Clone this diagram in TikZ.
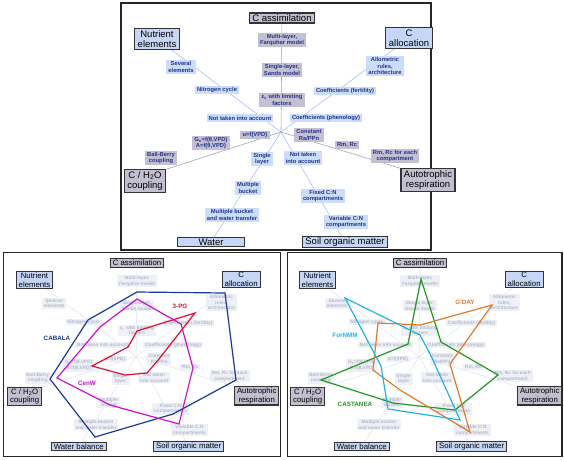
\documentclass[tikz,border=0pt]{standalone}
\usepackage{fontspec}
\setmainfont{Liberation Sans}
\usetikzlibrary{backgrounds}
\definecolor{boxblue}{HTML}{C6D6F6}
\definecolor{boxgrey}{HTML}{C3BFD1}
\definecolor{labblue}{HTML}{CCDDFC}
\definecolor{labgrey}{HTML}{C4C0D2}
\definecolor{labtext}{HTML}{22348A}
\definecolor{axblue}{HTML}{A9BFF0}
\definecolor{axgrey}{HTML}{A4A4B6}
\definecolor{fadefill}{HTML}{EEF0F7}
\definecolor{fadetext}{HTML}{B4B8CA}
\definecolor{fadeaxis}{HTML}{E2E4EC}
\definecolor{cabala}{HTML}{1C3A94}
\definecolor{cenw}{HTML}{CC11CC}
\definecolor{tpg}{HTML}{DD1133}
\definecolor{castanea}{HTML}{229922}
\definecolor{gday}{HTML}{E07A28}
\definecolor{fornmm}{HTML}{22B4E6}
\tikzset{
  mainbox/.style={draw=black!80, line width=1.1pt, align=center,
    font=\fontsize{9.5}{10.5}\selectfont, inner xsep=3pt, inner ysep=1.5pt},
  bluebox/.style={mainbox, fill=boxblue},
  greybox/.style={mainbox, fill=boxgrey},
  lab/.style={align=center, font=\fontsize{5.8}{6.7}\selectfont\bfseries,
    text=labtext, inner xsep=2.2pt, inner ysep=1.4pt},
  labb/.style={lab, fill=labblue},
  labg/.style={lab, fill=labgrey},
  axb/.style={draw=axblue, line width=0.6pt},
  axg/.style={draw=axgrey, line width=0.6pt},
  frame/.style={draw=black!85, line width=1.2pt},
  trace/.style={line width=1.2pt, line join=miter},
  model/.style={font=\fontsize{6.3}{7}\selectfont\bfseries},
  faded/.style={
    labb/.style={lab, fill=fadefill, text=fadetext},
    labg/.style={lab, fill=fadefill, text=fadetext},
    axb/.style={draw=fadeaxis, line width=0.5pt},
    axg/.style={draw=fadeaxis, line width=0.5pt}},
}
\newcommand{\StarPanel}[1]{%
  \coordinate (ctr) at (281,132);
  \node[greybox] (cass) at (282,18) {C assimilation};
  \node[bluebox] (nut) at (157,39) {Nutrient\\elements};
  \node[bluebox] (calloc) at (409,38) {C\\allocation};
  \node[greybox] (auto) at (428,180) {Autotrophic\\respiration};
  \node[bluebox] (som) at (345,242) {Soil organic matter};
  \node[bluebox, minimum width=67pt] (water) at (211,242) {#1};
  \node[greybox] (coupl) at (145,181) {C / H\textsubscript{2}O\\coupling};
  \node[labg] (ca1) at (282,40) {Multi-layer,\\Farquhar model};
  \node[labg] (ca2) at (282,70) {Single-layer,\\Sands model};
  \node[labg] (ca3) at (282,100) {ε\textsubscript{c} with limiting\\factors};
  \node[labb] (nu1) at (181,67) {Several\\elements};
  \node[labb] (nu2) at (217,90) {Nitrogen cycle};
  \node[labb] (nu3) at (240,118) {Not taken into account};
  \node[labb] (al1) at (385,66) {Allometric\\rules,\\architecture};
  \node[labb] (al2) at (345,91) {Coefficients (fertility)};
  \node[labb] (al3) at (326,118) {Coefficients (phenology)};
  \node[labg] (ar1) at (309,135) {Constant\\Ra/PPn};
  \node[labg] (ar2) at (347,145) {Rm, Rc};
  \node[labg] (ar3) at (395,156) {Rm, Rc for each\\compartment};
  \node[labb] (so1) at (303,158) {Not taken\\into account};
  \node[labb] (so2) at (323,196) {Fixed C:N\\compartments};
  \node[labb] (so3) at (346,222) {Variable C:N\\compartments};
  \node[labb] (wa1) at (262,159) {Single\\layer};
  \node[labb] (wa2) at (248,188) {Multiple\\bucket};
  \node[labb] (wa3) at (232,215) {Multiple bucket\\and water transfer};
  \node[labg] (co1) at (255,135) {u=f(VPD)};
  \node[labg] (co2) at (211,143) {G\textsubscript{s}=f(θ,VPD)\\A=f(θ,VPD)};
  \node[labg] (co3) at (161,158) {Ball-Berry\\coupling};
  \begin{scope}[on background layer]
    \draw[axg] (ctr) -- (cass);
    \draw[axb] (ctr) -- (nut);
    \draw[axb] (ctr) -- (calloc);
    \draw[axg] (ctr) -- (auto.north west);
    \draw[axb] (ctr) -- (som);
    \draw[axb] (ctr) -- (water);
    \draw[axg] (ctr) -- (coupl.north east);
  \end{scope}
}
\begin{document}
\begin{tikzpicture}[x=1pt, y=-1pt]
  \begin{scope}[on background layer]
    \fill[white] (0,0) rectangle (564,459);
  \end{scope}
  \useasboundingbox (0,0) rectangle (564,459);
  % frames
  \draw[frame] (121,3) rectangle (431,250);
  \draw[frame] (3.5,252.5) rectangle (280.5,456.5);
  \draw[frame] (287.5,252.5) rectangle (562,456.5);
  % top panel
  \StarPanel{Water}
  % bottom left panel
  \begin{scope}[shift={(-94.24,248.24)}, scale=0.82, transform shape, name prefix=L-, faded]
    \StarPanel{Water balance}
  \end{scope}
  % bottom right panel
  \begin{scope}[shift={(188.76,248.24)}, scale=0.82, transform shape, name prefix=R-, faded]
    \StarPanel{Water balance}
  \end{scope}
  % traces, bottom left
  \draw[trace, cabala] (137,292) -- (225,293) -- (236,380) -- (173,414) -- (95,437) -- (50,379) -- (88,320) -- cycle;
  \draw[trace, cenw] (137,299) -- (181,324) -- (193,368) -- (179,424) -- (110,405) -- (57,378) -- (100,327) -- cycle;
  \draw[trace, tpg] (137,331) -- (195,313) -- (159,359) -- (147,373) -- (125,375) -- (92,366) -- (128,347) -- cycle;
  \node[model, text=cabala] (mcabala) at (57,338) {CABALA};
  \node[model, text=tpg] (mtpg) at (180,306) {3-PG};
  \node[model, text=cenw] (mcenw) at (87,383) {CenW};
  % traces, bottom right
  \draw[trace, castanea] (421,279) -- (441,342) -- (498,375) -- (455,410) -- (393,403) -- (321,380) -- (408,344) -- cycle;
  \draw[trace, gday] (420,325) -- (492,305) -- (450,364) -- (470,432) -- (400,390) -- (373,370) -- (378,323) -- cycle;
  \draw[trace, fornmm] (345,298) -- (420,335) -- (429,352) -- (433,360) -- (460,420) -- (388,409) -- (381,366) -- cycle;
  \node[model, text=fornmm] (mfornmm) at (345,335) {ForNMM};
  \node[model, text=gday] (mgday) at (465,302) {G'DAY};
  \node[model, text=castanea] (mcastanea) at (355,404) {CASTANEA};
\end{tikzpicture}
\end{document}
